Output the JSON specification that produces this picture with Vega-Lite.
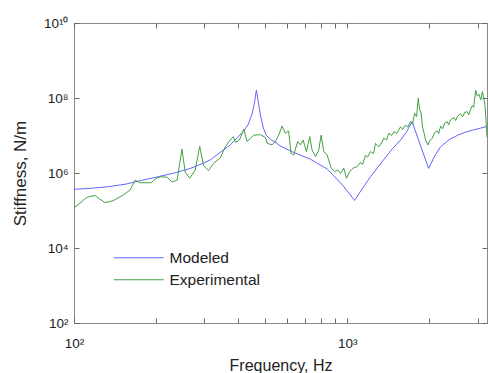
{
  "$schema": "https://vega.github.io/schema/vega-lite/v6.json",
  "width": 413,
  "height": 300,
  "autosize": {"type": "none"},
  "padding": {"left": 74, "top": 23, "right": 1, "bottom": 50},
  "background": "white",
  "config": {
    "font": "Liberation Sans",
    "view": {"stroke": "#8a8a8a", "strokeWidth": 1},
    "axis": {"grid": false, "domain": false, "tickColor": "#666", "tickSize": -5, "labelFlush": false, "labelColor": "#222", "titleColor": "#222", "labelFontSize": 13.5, "titleFontSize": 16, "titleFontWeight": "normal"}
  },
  "data": {"values": [
    {"series": "Modeled", "freq": 100, "stiff": 3.67e5},
    {"series": "Modeled", "freq": 114.4, "stiff": 3.89e5},
    {"series": "Modeled", "freq": 132.1, "stiff": 4.27e5},
    {"series": "Modeled", "freq": 153.8, "stiff": 5.01e5},
    {"series": "Modeled", "freq": 176.1, "stiff": 6.31e5},
    {"series": "Modeled", "freq": 203.2, "stiff": 7.94e5},
    {"series": "Modeled", "freq": 232.6, "stiff": 1.0e6},
    {"series": "Modeled", "freq": 266.3, "stiff": 1.32e6},
    {"series": "Modeled", "freq": 297.2, "stiff": 1.82e6},
    {"series": "Modeled", "freq": 315.3, "stiff": 2.24e6},
    {"series": "Modeled", "freq": 343.1, "stiff": 3.55e6},
    {"series": "Modeled", "freq": 373.4, "stiff": 5.62e6},
    {"series": "Modeled", "freq": 396.1, "stiff": 8.91e6},
    {"series": "Modeled", "freq": 416.7, "stiff": 1.26e7},
    {"series": "Modeled", "freq": 434.7, "stiff": 2.0e7},
    {"series": "Modeled", "freq": 449.6, "stiff": 3.98e7},
    {"series": "Modeled", "freq": 457.3, "stiff": 7.08e7},
    {"series": "Modeled", "freq": 465.1, "stiff": 1.62e8},
    {"series": "Modeled", "freq": 472.9, "stiff": 7.94e7},
    {"series": "Modeled", "freq": 481.0, "stiff": 3.55e7},
    {"series": "Modeled", "freq": 493.3, "stiff": 1.58e7},
    {"series": "Modeled", "freq": 506.0, "stiff": 1.0e7},
    {"series": "Modeled", "freq": 523.3, "stiff": 7.94e6},
    {"series": "Modeled", "freq": 550.5, "stiff": 6.31e6},
    {"series": "Modeled", "freq": 569.4, "stiff": 5.25e6},
    {"series": "Modeled", "freq": 635.6, "stiff": 3.55e6},
    {"series": "Modeled", "freq": 733.6, "stiff": 2.34e6},
    {"series": "Modeled", "freq": 847.0, "stiff": 1.26e6},
    {"series": "Modeled", "freq": 969.2, "stiff": 4.47e5},
    {"series": "Modeled", "freq": 1063.6, "stiff": 1.86e5},
    {"series": "Modeled", "freq": 1147.8, "stiff": 4.27e5},
    {"series": "Modeled", "freq": 1217.4, "stiff": 7.94e5},
    {"series": "Modeled", "freq": 1359, "stiff": 2.24e6},
    {"series": "Modeled", "freq": 1465.9, "stiff": 4.47e6},
    {"series": "Modeled", "freq": 1568.6, "stiff": 7.59e6},
    {"series": "Modeled", "freq": 1650.1, "stiff": 1.26e7},
    {"series": "Modeled", "freq": 1728.3, "stiff": 2.34e7},
    {"series": "Modeled", "freq": 1986.7, "stiff": 1.32e6},
    {"series": "Modeled", "freq": 2089.9, "stiff": 2.82e6},
    {"series": "Modeled", "freq": 2198.5, "stiff": 5.01e6},
    {"series": "Modeled", "freq": 2352.2, "stiff": 7.59e6},
    {"series": "Modeled", "freq": 2538.6, "stiff": 1.02e7},
    {"series": "Modeled", "freq": 2715.5, "stiff": 1.23e7},
    {"series": "Modeled", "freq": 2905, "stiff": 1.41e7},
    {"series": "Modeled", "freq": 3083, "stiff": 1.58e7},
    {"series": "Modeled", "freq": 3250, "stiff": 1.74e7},
    {"series": "Experimental", "freq": 100, "stiff": 1.17e5},
    {"series": "Experimental", "freq": 105.2, "stiff": 1.58e5},
    {"series": "Experimental", "freq": 111.3, "stiff": 2.24e5},
    {"series": "Experimental", "freq": 119.4, "stiff": 2.51e5},
    {"series": "Experimental", "freq": 124.5, "stiff": 2.0e5},
    {"series": "Experimental", "freq": 129.9, "stiff": 1.62e5},
    {"series": "Experimental", "freq": 139.0, "stiff": 1.82e5},
    {"series": "Experimental", "freq": 151.2, "stiff": 2.57e5},
    {"series": "Experimental", "freq": 160.5, "stiff": 3.55e5},
    {"series": "Experimental", "freq": 167.4, "stiff": 6.46e5},
    {"series": "Experimental", "freq": 174.6, "stiff": 5.5e5},
    {"series": "Experimental", "freq": 191.6, "stiff": 5.5e5},
    {"series": "Experimental", "freq": 199.9, "stiff": 7.24e5},
    {"series": "Experimental", "freq": 206.7, "stiff": 7.94e5},
    {"series": "Experimental", "freq": 218.8, "stiff": 7.76e5},
    {"series": "Experimental", "freq": 228.8, "stiff": 5.75e5},
    {"series": "Experimental", "freq": 238.7, "stiff": 6.46e5},
    {"series": "Experimental", "freq": 248.3, "stiff": 4.37e6},
    {"series": "Experimental", "freq": 255.3, "stiff": 1.05e6},
    {"series": "Experimental", "freq": 265.2, "stiff": 7.24e5},
    {"series": "Experimental", "freq": 277.8, "stiff": 1.2e6},
    {"series": "Experimental", "freq": 288.6, "stiff": 5.13e6},
    {"series": "Experimental", "freq": 298.0, "stiff": 1.58e6},
    {"series": "Experimental", "freq": 310.8, "stiff": 1.15e6},
    {"series": "Experimental", "freq": 324.3, "stiff": 1.82e6},
    {"series": "Experimental", "freq": 343.1, "stiff": 2.51e6},
    {"series": "Experimental", "freq": 357.9, "stiff": 5.01e6},
    {"series": "Experimental", "freq": 373.4, "stiff": 7.59e6},
    {"series": "Experimental", "freq": 383.0, "stiff": 9.33e6},
    {"series": "Experimental", "freq": 389.5, "stiff": 6.61e6},
    {"series": "Experimental", "freq": 400.4, "stiff": 7.24e6},
    {"series": "Experimental", "freq": 406.2, "stiff": 8.51e6},
    {"series": "Experimental", "freq": 418.4, "stiff": 1.48e7},
    {"series": "Experimental", "freq": 429.9, "stiff": 6.92e6},
    {"series": "Experimental", "freq": 442.0, "stiff": 8.32e6},
    {"series": "Experimental", "freq": 454.5, "stiff": 1.02e7},
    {"series": "Experimental", "freq": 481.0, "stiff": 1.05e7},
    {"series": "Experimental", "freq": 501.7, "stiff": 8.91e6},
    {"series": "Experimental", "freq": 510.2, "stiff": 6.17e6},
    {"series": "Experimental", "freq": 530.9, "stiff": 5.62e6},
    {"series": "Experimental", "freq": 545.9, "stiff": 6.92e6},
    {"series": "Experimental", "freq": 561.3, "stiff": 1.02e7},
    {"series": "Experimental", "freq": 577.6, "stiff": 1.78e7},
    {"series": "Experimental", "freq": 593.9, "stiff": 1.15e7},
    {"series": "Experimental", "freq": 610.7, "stiff": 1.32e7},
    {"series": "Experimental", "freq": 623.2, "stiff": 3.31e6},
    {"series": "Experimental", "freq": 637.2, "stiff": 3.02e6},
    {"series": "Experimental", "freq": 659.0, "stiff": 6.92e6},
    {"series": "Experimental", "freq": 674.2, "stiff": 5.62e6},
    {"series": "Experimental", "freq": 689.9, "stiff": 7.59e6},
    {"series": "Experimental", "freq": 709.3, "stiff": 3.72e6},
    {"series": "Experimental", "freq": 729.4, "stiff": 9.33e6},
    {"series": "Experimental", "freq": 744.3, "stiff": 4.07e6},
    {"series": "Experimental", "freq": 765.3, "stiff": 2.75e6},
    {"series": "Experimental", "freq": 786.9, "stiff": 4.07e6},
    {"series": "Experimental", "freq": 803.0, "stiff": 1.02e7},
    {"series": "Experimental", "freq": 820.8, "stiff": 3.72e6},
    {"series": "Experimental", "freq": 844.7, "stiff": 3.02e6},
    {"series": "Experimental", "freq": 873.7, "stiff": 1.35e6},
    {"series": "Experimental", "freq": 898.4, "stiff": 1.1e6},
    {"series": "Experimental", "freq": 923.7, "stiff": 1.2e6},
    {"series": "Experimental", "freq": 944.9, "stiff": 9.77e5},
    {"series": "Experimental", "freq": 971.6, "stiff": 1.35e6},
    {"series": "Experimental", "freq": 994.0, "stiff": 7.24e5},
    {"series": "Experimental", "freq": 1022, "stiff": 1.1e6},
    {"series": "Experimental", "freq": 1052, "stiff": 1.35e6},
    {"series": "Experimental", "freq": 1088, "stiff": 1.48e6},
    {"series": "Experimental", "freq": 1119, "stiff": 1.91e6},
    {"series": "Experimental", "freq": 1138, "stiff": 1.66e6},
    {"series": "Experimental", "freq": 1167, "stiff": 3.02e6},
    {"series": "Experimental", "freq": 1187, "stiff": 2.63e6},
    {"series": "Experimental", "freq": 1217, "stiff": 3.72e6},
    {"series": "Experimental", "freq": 1249, "stiff": 3.31e6},
    {"series": "Experimental", "freq": 1270, "stiff": 6.17e6},
    {"series": "Experimental", "freq": 1306, "stiff": 5.01e6},
    {"series": "Experimental", "freq": 1336, "stiff": 6.31e6},
    {"series": "Experimental", "freq": 1362, "stiff": 8.51e6},
    {"series": "Experimental", "freq": 1394, "stiff": 7.59e6},
    {"series": "Experimental", "freq": 1421, "stiff": 1.15e7},
    {"series": "Experimental", "freq": 1454, "stiff": 1.0e7},
    {"series": "Experimental", "freq": 1483, "stiff": 1.26e7},
    {"series": "Experimental", "freq": 1517, "stiff": 1.12e7},
    {"series": "Experimental", "freq": 1543, "stiff": 1.41e7},
    {"series": "Experimental", "freq": 1569, "stiff": 1.7e7},
    {"series": "Experimental", "freq": 1595, "stiff": 1.45e7},
    {"series": "Experimental", "freq": 1636, "stiff": 1.91e7},
    {"series": "Experimental", "freq": 1664, "stiff": 1.66e7},
    {"series": "Experimental", "freq": 1707, "stiff": 2.34e7},
    {"series": "Experimental", "freq": 1736, "stiff": 2.0e7},
    {"series": "Experimental", "freq": 1765, "stiff": 3.89e7},
    {"series": "Experimental", "freq": 1795, "stiff": 3.16e7},
    {"series": "Experimental", "freq": 1821, "stiff": 9.77e7},
    {"series": "Experimental", "freq": 1841, "stiff": 5.01e7},
    {"series": "Experimental", "freq": 1865, "stiff": 3.98e7},
    {"series": "Experimental", "freq": 1888, "stiff": 1.7e7},
    {"series": "Experimental", "freq": 1937, "stiff": 7.59e6},
    {"series": "Experimental", "freq": 1975, "stiff": 5.62e6},
    {"series": "Experimental", "freq": 2004, "stiff": 7.08e6},
    {"series": "Experimental", "freq": 2049, "stiff": 8.51e6},
    {"series": "Experimental", "freq": 2090, "stiff": 1.2e7},
    {"series": "Experimental", "freq": 2138, "stiff": 1.32e7},
    {"series": "Experimental", "freq": 2162, "stiff": 1.12e7},
    {"series": "Experimental", "freq": 2199, "stiff": 1.78e7},
    {"series": "Experimental", "freq": 2236, "stiff": 1.51e7},
    {"series": "Experimental", "freq": 2274, "stiff": 2.14e7},
    {"series": "Experimental", "freq": 2326, "stiff": 2.34e7},
    {"series": "Experimental", "freq": 2352, "stiff": 1.91e7},
    {"series": "Experimental", "freq": 2392, "stiff": 2.63e7},
    {"series": "Experimental", "freq": 2460, "stiff": 3.02e7},
    {"series": "Experimental", "freq": 2496, "stiff": 2.51e7},
    {"series": "Experimental", "freq": 2539, "stiff": 3.31e7},
    {"series": "Experimental", "freq": 2604, "stiff": 3.8e7},
    {"series": "Experimental", "freq": 2648, "stiff": 3.16e7},
    {"series": "Experimental", "freq": 2692, "stiff": 4.17e7},
    {"series": "Experimental", "freq": 2754, "stiff": 4.27e7},
    {"series": "Experimental", "freq": 2785, "stiff": 3.55e7},
    {"series": "Experimental", "freq": 2832, "stiff": 5.01e7},
    {"series": "Experimental", "freq": 2873, "stiff": 6.31e7},
    {"series": "Experimental", "freq": 2905, "stiff": 5.62e7},
    {"series": "Experimental", "freq": 2954, "stiff": 1.62e8},
    {"series": "Experimental", "freq": 2992, "stiff": 1.12e8},
    {"series": "Experimental", "freq": 3038, "stiff": 1.26e8},
    {"series": "Experimental", "freq": 3083, "stiff": 8.91e7},
    {"series": "Experimental", "freq": 3126, "stiff": 1.48e8},
    {"series": "Experimental", "freq": 3161, "stiff": 1.0e8},
    {"series": "Experimental", "freq": 3196, "stiff": 6.31e7},
    {"series": "Experimental", "freq": 3223, "stiff": 2.51e7},
    {"series": "Experimental", "freq": 3250, "stiff": 8.91e6}
  ]},
  "layer": [
    {
      "transform": [{"filter": "datum.series == 'Modeled'"}],
      "mark": {"type": "line", "strokeWidth": 1, "clip": true},
      "encoding": {
        "x": {"field": "freq", "type": "quantitative",
          "scale": {"type": "log", "domain": [100, 3250], "nice": false},
          "axis": {"orient": "bottom", "values": [100, 200, 300, 400, 500, 600, 700, 800, 900, 1000, 2000, 3000],
            "labelExpr": "datum.value == 100 ? '10²' : datum.value == 1000 ? '10³' : ''",
            "labelPadding": 18, "title": "Frequency, Hz", "titlePadding": 8}},
        "y": {"field": "stiff", "type": "quantitative",
          "scale": {"type": "log", "domain": [100, 10000000000], "nice": false},
          "axis": {"orient": "left", "values": [100, 10000, 1000000, 100000000, 10000000000],
            "labelExpr": "datum.value == 100 ? '10²' : datum.value == 10000 ? '10⁴' : datum.value == 1000000 ? '10⁶' : datum.value == 100000000 ? '10⁸' : '10¹⁰'",
            "labelPadding": 11, "title": "Stiffness, N/m", "titleFontSize": 17, "titlePadding": 14}},
        "color": {"field": "series", "type": "nominal",
          "scale": {"domain": ["Modeled", "Experimental"], "range": ["#6464ff", "#44a044"]},
          "legend": {"orient": "none", "legendX": 57, "legendY": 227, "title": null, "padding": 0,
            "symbolType": "M-5,0H5", "symbolSize": 100, "symbolStrokeWidth": 1, "symbolFillColor": "transparent",
            "labelFontSize": 15.5, "labelOffset": 23, "labelColor": "#222", "rowPadding": 5}}
      }
    },
    {
      "transform": [{"filter": "datum.series == 'Experimental'"}],
      "mark": {"type": "line", "strokeWidth": 1, "clip": true},
      "encoding": {
        "x": {"field": "freq", "type": "quantitative",
          "scale": {"type": "log", "domain": [100, 3250], "nice": false},
          "axis": {"orient": "top", "values": [100, 200, 300, 400, 500, 600, 700, 800, 900, 1000, 2000, 3000], "labels": false, "title": null}},
        "y": {"field": "stiff", "type": "quantitative",
          "scale": {"type": "log", "domain": [100, 10000000000], "nice": false},
          "axis": {"orient": "right", "values": [100, 10000, 1000000, 100000000, 10000000000], "labels": false, "title": null}},
        "color": {"field": "series", "type": "nominal"}
      }
    }
  ],
  "resolve": {"axis": {"x": "independent", "y": "independent"}}
}
